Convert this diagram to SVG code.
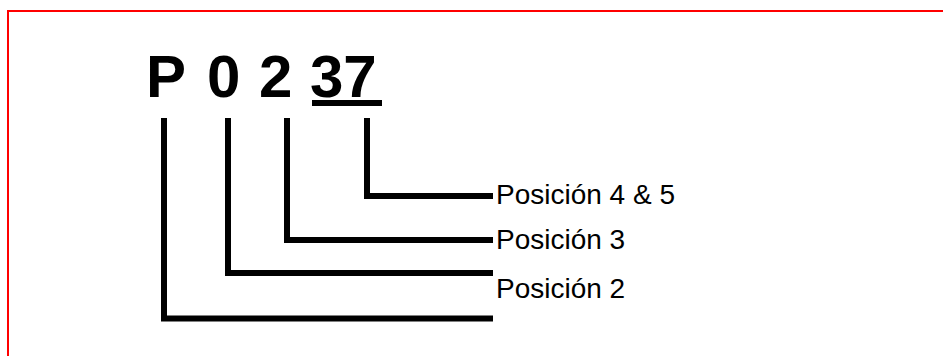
<svg xmlns="http://www.w3.org/2000/svg" width="943" height="356" viewBox="0 0 943 356">
<style>
.big{font-family:"Liberation Sans",Arial,sans-serif;font-weight:bold;font-size:60px;fill:#000}
.lbl{font-family:"Liberation Sans",Arial,sans-serif;font-size:28px;fill:#000}
.conn{fill:none;stroke:#000;stroke-width:6;stroke-linejoin:miter;stroke-linecap:butt}
.frame{fill:none;stroke:#ff0000;stroke-width:2}
</style>
<rect width="943" height="356" fill="#fff"/>
<path class="frame" d="M8,356 V11 H943"/>
<g id="code">
<text class="big" x="146" y="97">P</text>
<text class="big" x="207" y="97">0</text>
<text class="big" x="259" y="97">2</text>
<text class="big" x="310" y="97">37</text>
<rect x="312" y="100" width="70" height="6" fill="#000"/>
</g>
<g id="connectors">
<polyline class="conn" points="164,118 164,318.5 493,318.5"/>
<polyline class="conn" points="228,118 228,273 493,273"/>
<polyline class="conn" points="287,118 287,240 493,240"/>
<polyline class="conn" points="367,118 367,196 493,196"/>
</g>
<g id="pos45"><text class="lbl" x="496" y="204">Posición 4 &amp; 5</text></g>
<g id="pos3"><text class="lbl" x="496" y="249">Posición 3</text></g>
<g id="pos2"><text class="lbl" x="496" y="298">Posición 2</text></g>
</svg>
